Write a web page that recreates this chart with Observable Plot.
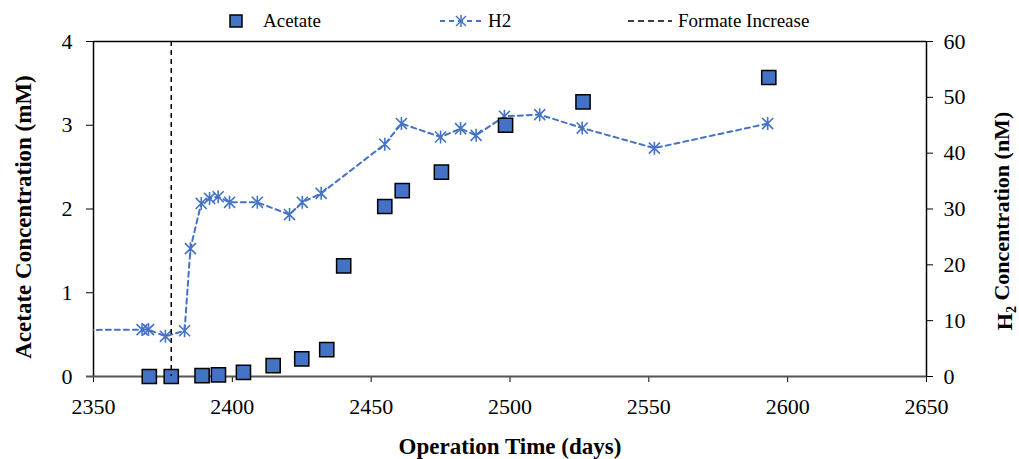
<!DOCTYPE html>
<html><head><meta charset="utf-8">
<script src="https://cdn.jsdelivr.net/npm/d3@7"></script>
<script src="https://cdn.jsdelivr.net/npm/@observablehq/plot@0.6"></script>
<style>
body{margin:0;background:#fff;font-family:"Liberation Serif","Times New Roman",serif;}
#legend{position:relative;width:1019px;height:30px;}
#legend .t{position:absolute;font-size:19px;line-height:19px;top:11px;color:#000;white-space:nowrap;}
#legend svg{position:absolute;}
#chart svg text{font-family:"Liberation Serif","Times New Roman",serif;}
</style></head><body>
<div id="legend">
  <svg style="left:229px;top:14px" width="14" height="14"><rect x="1" y="1" width="12" height="12" fill="#4472C4" stroke="#000" stroke-width="1.5"/></svg>
  <span class="t" style="left:263px">Acetate</span>
  <svg style="left:440px;top:12px" width="42" height="18"><line x1="0" y1="9" x2="42" y2="9" stroke="#4472C4" stroke-width="2" stroke-dasharray="5,4"/><g stroke="#4472C4" stroke-width="1.5"><line x1="21" y1="3" x2="21" y2="15"/><line x1="16" y1="4" x2="26" y2="14"/><line x1="26" y1="4" x2="16" y2="14"/></g></svg>
  <span class="t" style="left:488px">H2</span>
  <svg style="left:628px;top:12px" width="44" height="18"><line x1="0" y1="9" x2="44" y2="9" stroke="#000" stroke-width="1.5" stroke-dasharray="6,4"/></svg>
  <span class="t" style="left:678px">Formate Increase</span>
</div>
<div id="chart"></div>
<script>
// Acetate series (left axis, mM)
const acetateDays = [2370.1, 2378, 2389.1, 2395, 2404, 2414.7, 2425, 2434, 2440.1, 2454.9, 2461.2, 2475.3, 2498.4, 2526.3, 2593.2];
const acetateValues = [0, 0, 0.01, 0.02, 0.05, 0.13, 0.21, 0.32, 1.32, 2.03, 2.22, 2.44, 3.0, 3.28, 3.57];
// H2 series (right axis, nM)
const h2Days = [2335, 2367.5, 2369.8, 2375.9, 2382.8, 2384.9, 2388.8, 2391.8, 2394.9, 2399, 2409, 2420.6, 2425.2, 2432, 2454.9, 2460.9, 2475, 2482.2, 2487.8, 2498, 2510.7, 2526, 2552, 2592.8];
const h2Values = [8.3, 8.4, 8.4, 7.2, 8.2, 22.9, 31.0, 31.9, 32.2, 31.2, 31.2, 29.0, 31.2, 32.8, 41.6, 45.3, 42.9, 44.4, 43.2, 46.6, 46.9, 44.5, 40.9, 45.3];
// Formate increase marker
const formateDays = [2378];
// Tick labels
const xTicks = [2350, 2400, 2450, 2500, 2550, 2600, 2650];
const yTicks = [0, 1, 2, 3, 4];
const h2Ticks = [0, 10, 20, 30, 40, 50, 60];
const h2Factor = 15; // 60 nM on right axis = 4 mM on left axis

const acetate = acetateDays.map((d, i) => ({day: d, value: acetateValues[i]}));
const h2 = h2Days.map((d, i) => ({day: d, value: h2Values[i]}));

const star = {
  draw(ctx, size) {
    const r = Math.sqrt(size / Math.PI);
    const k = r * 0.85;
    ctx.moveTo(0, -r); ctx.lineTo(0, r);
    ctx.moveTo(-k, -k); ctx.lineTo(k, k);
    ctx.moveTo(k, -k); ctx.lineTo(-k, k);
  }
};

const blue = "#4472C4";
const font = "'Liberation Serif','Times New Roman',serif";

const chart = Plot.plot({
  width: 1019,
  height: 429,
  marginTop: 11,
  marginBottom: 83,
  marginLeft: 93,
  marginRight: 93,
  style: {fontFamily: font, fontSize: "22px", color: "#000", background: "#fff"},
  x: {domain: [2350, 2650]},
  y: {domain: [0, 4]},
  marks: [
    Plot.ruleY([4], {stroke: "#000", strokeWidth: 1.5}),
    Plot.ruleX([2350], {stroke: "#000", strokeWidth: 1.5}),
    Plot.ruleX([2650], {stroke: "#000", strokeWidth: 1.5}),
    Plot.axisY({ticks: yTicks, tickSize: 7, tickPadding: 14, label: null, tickFormat: d => String(d), fontSize: 22, stroke: "#000"}),
    Plot.axisY({anchor: "right", ticks: h2Ticks.map(v => v / h2Factor), tickSize: 6, tickPadding: 11, label: null, tickFormat: d => String(Math.round(d * h2Factor)), fontSize: 22, stroke: "#000"}),
    Plot.axisX({ticks: xTicks, tickSize: 6, tickPadding: 16, label: null, tickFormat: d => String(d), fontSize: 22, stroke: "#000"}),
    Plot.line(h2, {x: "day", y: d => d.value / h2Factor, stroke: blue, strokeWidth: 2, strokeDasharray: "5,4", clip: true}),
    Plot.dot(h2, {x: "day", y: d => d.value / h2Factor, symbol: star, r: 6.5, stroke: blue, strokeWidth: 1.6, fill: "none", clip: true}),
    Plot.ruleY([0], {x1: 2350 - 2.5, x2: 2650, stroke: "#555", strokeWidth: 2, clip: false}),
    Plot.dot(acetate, {x: "day", y: "value", symbol: "square", r: 8, fill: blue, stroke: "#000", strokeWidth: 1.5}),
    Plot.ruleX(formateDays, {stroke: "#000", strokeWidth: 1.5, strokeDasharray: "5,4"}),
    Plot.text(["Operation Time (days)"], {frameAnchor: "bottom", dy: 77, fontWeight: "bold", fontSize: 23}),
    Plot.text(["Acetate Concentration (mM)"], {frameAnchor: "left", textAnchor: "middle", rotate: -90, dx: -70, dy: 8, fontWeight: "bold", fontSize: 23}),
    Plot.text(["H2 Concentration (nM)"], {frameAnchor: "right", textAnchor: "middle", rotate: -90, dx: 78, dy: 12, fontWeight: "bold", fontSize: 22})
  ]
});
document.getElementById("chart").appendChild(chart);

// Render the "2" of H2 in the right axis title as a subscript
d3.select(chart).selectAll("text").each(function () {
  if (this.textContent === "H2 Concentration (nM)") {
    const t = d3.select(this);
    t.text(null);
    t.append("tspan").text("H");
    t.append("tspan").attr("dy", "0.3em").attr("font-size", "14px").text("2");
    t.append("tspan").attr("dy", "-0.3em").text(" Concentration (nM)");
  }
});
</script>
</body></html>
